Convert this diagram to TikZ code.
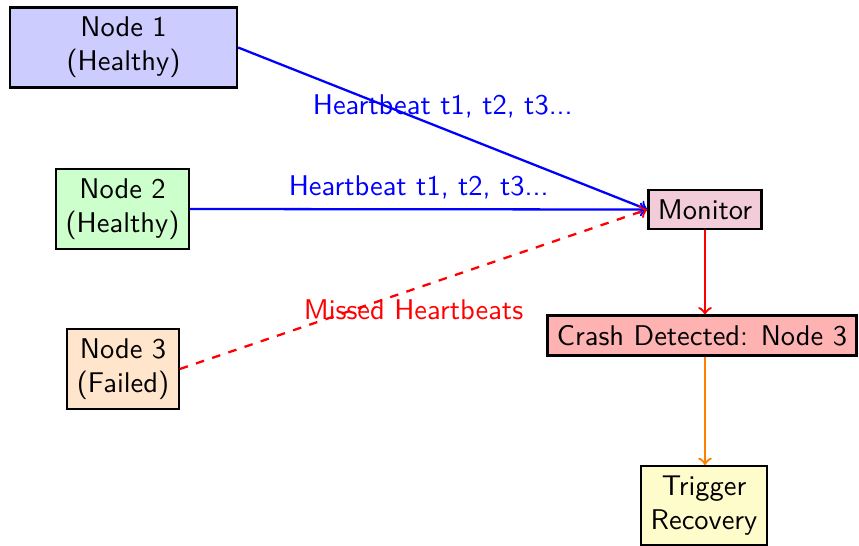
\documentclass[tikz,border=0pt]{standalone}
\renewcommand{\familydefault}{\sfdefault}
\begin{document}
\begin{tikzpicture}[x=0.3509pt,y=-0.3509pt,
  box/.style={draw=black,thick,align=center,font=\sffamily},
  conn/.style={thick,->},
  lbl/.style={font=\sffamily,midway}]
\useasboundingbox (0,0) rectangle (859,545);
\node[box,fill=blue!20,minimum width=2.8cm] (n1) at (123.5,47.5) {Node 1\\(Healthy)};
\node[box,fill=green!20] (n2) at (122.5,209) {Node 2\\(Healthy)};
\node[box,fill=orange!20] (n3) at (123,369) {Node 3\\(Failed)};
\node[box,fill=purple!20] (mon) at (705,209.5) {Monitor};
\node[box,fill=red!30] (crash) at (702,335.5) {Crash Detected: Node 3};
\node[box,fill=yellow!20] (trig) at (704,505.5) {Trigger\\Recovery};
\draw[conn,blue] (n1.east) -- node[lbl,above,text=blue] (l1) {Heartbeat t1, t2, t3...} (mon.west);
\draw[conn,blue] (n2.east) -- node[lbl,above,text=blue] (l2) {Heartbeat t1, t2, t3...} (mon.west);
\draw[conn,red,dashed] (n3.east) -- node[lbl,below,text=red] (l3) {Missed Heartbeats} (mon.west);
\draw[conn,red] (mon.south) -- (crash.north -| mon.south);
\draw[conn,orange] (crash.south -| mon.south) -- (trig.north -| mon.south);
\end{tikzpicture}
\end{document}
